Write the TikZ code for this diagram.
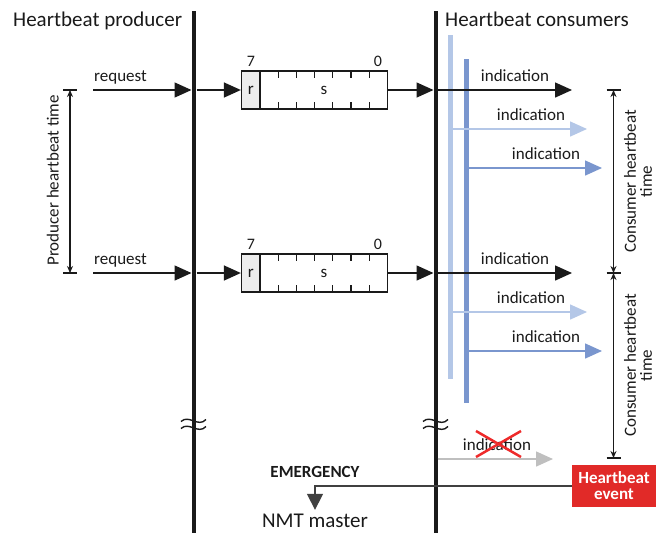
\documentclass[tikz,border=0pt]{standalone}
\usepackage{fontspec}
\setmainfont{Carlito}
\usetikzlibrary{arrows.meta}
\definecolor{txt}{HTML}{1A1A1A}
\definecolor{lblue}{HTML}{B4C7E7}
\definecolor{mblue}{HTML}{7A96CE}
\definecolor{garr}{HTML}{BFBFBF}
\definecolor{hbred}{HTML}{E12A28}
\definecolor{xred}{HTML}{EE2A2A}
\definecolor{rgray}{HTML}{EDEDED}
\definecolor{emline}{HTML}{404040}
\begin{document}
\begin{tikzpicture}[x=1pt,y=-1pt,
  lbl/.style={font=\fontsize{17}{16}\selectfont, text=txt, inner sep=0pt},
  digit/.style={font=\fontsize{16}{16}\selectfont, text=txt, inner sep=0pt, anchor=base},
  ttl/.style={font=\fontsize{21}{24}\selectfont, text=txt, inner sep=0pt},
  arr/.style={line width=1.5pt, draw=txt, -{Triangle[length=17pt,width=15pt]}},
  dimarr/.style={line width=1.2pt, draw=txt, {Stealth[length=7pt,width=6pt]}-{Stealth[length=7pt,width=6pt]}},
  tickline/.style={line width=1.2pt, draw=txt},
  life/.style={line width=4.5pt, draw=txt},
  regbox/.style={draw=txt, line width=1.3pt, minimum width=146pt, minimum height=38pt, inner sep=0pt},
  rcell/.style={draw=txt, line width=1.3pt, fill=rgray, minimum width=18.5pt, minimum height=38pt, inner sep=0pt, anchor=west, font=\fontsize{17}{16}\selectfont, text=txt},
  brk/.style={line width=1.4pt, draw=txt},
]
\useasboundingbox (0,0) rectangle (656,533);

% titles
\node[ttl, anchor=base west] (tprod) at (13,26) {Heartbeat producer};
\node[ttl, anchor=base west] (tcons) at (445,26) {Heartbeat consumers};

% life lines
\coordinate (ptop) at (194,11);
\coordinate (pbot) at (194,533);
\coordinate (ctop) at (436,11);
\coordinate (cbot) at (436,533);
\draw[life] (ptop) -- (pbot);
\draw[life] (ctop) -- (cbot);

% break marks
\foreach \bx in {181,423}{
  \foreach \by in {0,7}{
    \draw[brk] (\bx,{421.5+\by}) .. controls ({\bx+8},{414+\by}) and ({\bx+17},{428+\by}) .. ({\bx+25},{419.5+\by});
  }
}

% consumer bars
\coordinate (lbt) at (450.5,35);
\coordinate (lbb) at (450.5,379);
\coordinate (mbt) at (466.5,59);
\coordinate (mbb) at (466.5,403);
\draw[line width=4.5pt, draw=lblue] (lbt) -- (lbb);
\draw[line width=5pt, draw=mblue] (mbt) -- (mbb);

% two heartbeat cycles
\foreach \y/\i in {90/1,273/2}{
  \coordinate (rs\i) at (93,\y);
  \coordinate (pe\i) at (191.5,\y);
  \coordinate (pl\i) at (196.5,\y);
  \coordinate (cl\i) at (433.5,\y);
  \node[lbl, anchor=base west] (req\i) at (94,{\y-9}) {request};
  \draw[arr] (rs\i) -- (pe\i);
  \node[regbox] (box\i) at (314.5,\y) {};
  \node[rcell] (r\i) at (box\i.west) {r};
  \node[lbl] (s\i) at (324,\y) {s};
  \foreach \k in {1,...,6}{
    \draw[tickline] ({260+18.21*\k},{\y-19}) -- ({260+18.21*\k},{\y-12});
    \draw[tickline] ({260+18.21*\k},{\y+19}) -- ({260+18.21*\k},{\y+12});
  }
  \node[digit] (hi\i) at (251,{\y-24}) {7};
  \node[digit] (lo\i) at (378,{\y-24}) {0};
  \draw[arr] (pl\i) -- (box\i.west);
  \draw[arr] (box\i.east) -- (cl\i);
  % indications
  \coordinate (ka\i) at (438,\y);
  \coordinate (kb\i) at (572,\y);
  \draw[arr] (ka\i) -- (kb\i);
  \node[lbl, anchor=base] (ik\i) at (515,{\y-9}) {indication};
  \coordinate (la\i) at (452.5,{\y+39});
  \coordinate (lb\i) at (587,{\y+39});
  \draw[arr, draw=lblue] (la\i) -- (lb\i);
  \node[lbl, anchor=base] (il\i) at (531,{\y+30}) {indication};
  \coordinate (ma\i) at (468.5,{\y+78});
  \coordinate (mb\i) at (602,{\y+78});
  \draw[arr, draw=mblue] (ma\i) -- (mb\i);
  \node[lbl, anchor=base] (im\i) at (546,{\y+69}) {indication};
}

% producer heartbeat time
\coordinate (pd1) at (70,90);
\coordinate (pd2) at (70,273);
\draw[dimarr] (pd1) -- (pd2);
\draw[tickline] ([xshift=-7pt]pd1) -- ([xshift=7pt]pd1);
\draw[tickline] ([xshift=-7pt]pd2) -- ([xshift=7pt]pd2);
\node[lbl, rotate=90, anchor=base] (pht) at (58.5,180.5) {Producer heartbeat time};

% consumer heartbeat time
\coordinate (cd1) at (613.5,90);
\coordinate (cd2) at (613.5,273);
\coordinate (cd3) at (613.5,458);
\draw[dimarr] (cd1) -- (cd2);
\draw[dimarr] (cd2) -- (cd3);
\foreach \c in {cd1,cd2,cd3}{
  \draw[tickline] ([xshift=-7pt]\c) -- ([xshift=7pt]\c);
}
\node[lbl, rotate=90, align=center] (cht1) at (638,181.5) {Consumer heartbeat\\time};
\node[lbl, rotate=90, align=center] (cht2) at (638,365.5) {Consumer heartbeat\\time};

% missed indication
\coordinate (ga) at (437.5,459);
\coordinate (gb) at (553,459);
\draw[arr, draw=garr] (ga) -- (gb);
\node[lbl, anchor=base] (ig) at (497,450) {indication};
\draw[line width=2.5pt, draw=xred] (476,431) -- (521,457);
\draw[line width=2.5pt, draw=xred] (476,457) -- (521,431);

% heartbeat event and emergency
\node[fill=hbred, text=white, font=\bfseries\fontsize{17}{16}\selectfont, align=center, minimum width=84pt, minimum height=42pt, inner sep=0pt] (hb) at (614,486) {Heartbeat\\event};
\node[lbl, font=\bfseries\fontsize{17}{16}\selectfont, anchor=base] (em) at (315,477) {EMERGENCY};
\node[ttl, anchor=base] (nmt) at (315,527.5) {NMT master};
\draw[line width=1.5pt, draw=emline, -{Triangle[length=16pt,width=16pt]}] (hb.west) -| ([yshift=4pt]nmt.north);
\end{tikzpicture}
\end{document}
